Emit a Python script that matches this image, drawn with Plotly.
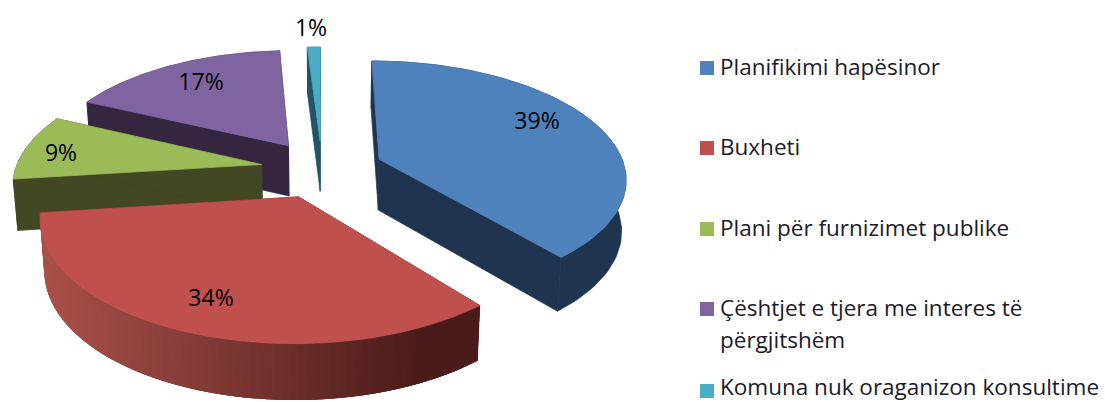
import numpy as np
import plotly.graph_objects as go

# --- data ---
categories = ["Planifikimi hapësinor", "Buxheti", "Plani për furnizimet publike",
              "Çështjet e tjera me interes të përgjitshëm", "Komuna nuk oraganizon konsultime"]
values = [39, 34, 9, 17, 1]
top_colors = ["#4f81bd", "#c0504d", "#9bbb59", "#8064a2", "#4bacc6"]
wall_colors = ["#1f344f", "#5a2220", "#414823", "#35273f", "#1f5564"]
legend_rows = [["Planifikimi hapësinor"], ["Buxheti"], ["Plani për furnizimet publike"],
               ["Çështjet e tjera me interes të", "përgjitshëm"], ["Komuna nuk oraganizon konsultime"]]

# --- projection of the exploded pie ---
CX, CY = 322, 169
A, B, K = 246, 115.7, 0.149
EXPLODE = 0.25
DEPTH = 51
SHRINK = 0.985


def project(th, r, mid):
    u, v = r * np.sin(th), r * np.cos(th)
    ex, ez = EXPLODE * np.sin(mid), EXPLODE * np.cos(mid)
    z = ez + v
    w = 1 + K * z
    return CX + A * (ex + u) / w, CY - B * z / w, w


def bottom(x, y, w):
    return CX + (x - CX) * SHRINK, y + DEPTH / np.sqrt(w)


fig = go.Figure()


def poly(xs, ys, color, lw=0.7):
    fig.add_trace(go.Scatter(x=list(xs), y=list(ys), mode="lines", fill="toself",
                             fillcolor=color, line=dict(color=color, width=lw),
                             hoverinfo="skip", showlegend=False))


starts = np.cumsum([0] + values[:-1]) / sum(values) * 2 * np.pi
ends = np.cumsum(values) / sum(values) * 2 * np.pi

for i in [3, 4, 2, 0, 1]:  # back-to-front painting order
    a0, a1 = starts[i], ends[i]
    mid = (a0 + a1) / 2
    ths = np.linspace(a0, a1, 80)
    xr, yr, wr = project(ths, 1.0, mid)
    xa, ya, wa = project(a0, 0.0, mid)
    xb, yb = bottom(xr, yr, wr)
    xab, yab = bottom(xa, ya, wa)

    # cut faces
    for k in (0, -1):
        poly([xa, xr[k], xb[k], xab, xa], [ya, yr[k], yb[k], yab, ya], wall_colors[i])

    # rim
    if i == 1:  # shaded rim for the red slice
        for j in range(len(ths) - 1):
            t = min(max((xr[j] - 40) / 370, 0), 1)
            c0, c1 = np.array([170, 80, 74]), np.array([74, 28, 25])
            col = c0 + (c1 - c0) * t
            e = max(j - 2, 0)  # painted with overlap so no seams show
            poly([xr[j + 1], xr[e], xb[e], xb[j + 1], xr[j + 1]],
                 [yr[j + 1], yr[e], yb[e], yb[j + 1], yr[j + 1]],
                 "rgb(%d,%d,%d)" % tuple(col), lw=0)
    else:
        poly(list(xr) + list(xb[::-1]) + [xr[0]], list(yr) + list(yb[::-1]) + [yr[0]], wall_colors[i])

    # top face
    poly([xa] + list(xr) + [xa], [ya] + list(yr) + [ya], top_colors[i])

# percentage labels
label_x = [537, 211, 61, 201, 311]
label_y = [123, 300, 155, 84, 30]
fig.add_trace(go.Scatter(x=label_x, y=label_y, mode="text", text=[f"{v}%" for v in values],
                         textfont=dict(family="Open Sans", size=23, color="#000000"),
                         textposition="middle center", hoverinfo="skip", showlegend=False))

# legend
swatch_y = [68, 148, 229, 309, 391]
row_gap = 32
fig.add_trace(go.Scatter(x=[707] * 5, y=swatch_y, mode="markers",
                         marker=dict(symbol="square", size=14, color=top_colors, line=dict(width=0)),
                         hoverinfo="skip", showlegend=False))
tx, ty, tt = [], [], []
for y, rows in zip(swatch_y, legend_rows):
    for n, row in enumerate(rows):
        tx.append(720)
        ty.append(min(y + 1 + n * row_gap, 389))
        tt.append(row)
fig.add_trace(go.Scatter(x=tx, y=ty, mode="text", text=tt,
                         textfont=dict(family="Open Sans", size=22.5, color="#1a1a2a"),
                         textposition="middle right", hoverinfo="skip", showlegend=False))

fig.update_layout(width=1105, height=402, margin=dict(l=0, r=0, t=0, b=0),
                  paper_bgcolor="white", plot_bgcolor="white",
                  xaxis=dict(range=[0, 1105], visible=False),
                  yaxis=dict(range=[402, 0], visible=False),
                  showlegend=False)
fig.write_html("out.html", config=dict(displayModeBar=False),
               post_script="document.body.style.margin='0';document.body.style.overflow='hidden';")
